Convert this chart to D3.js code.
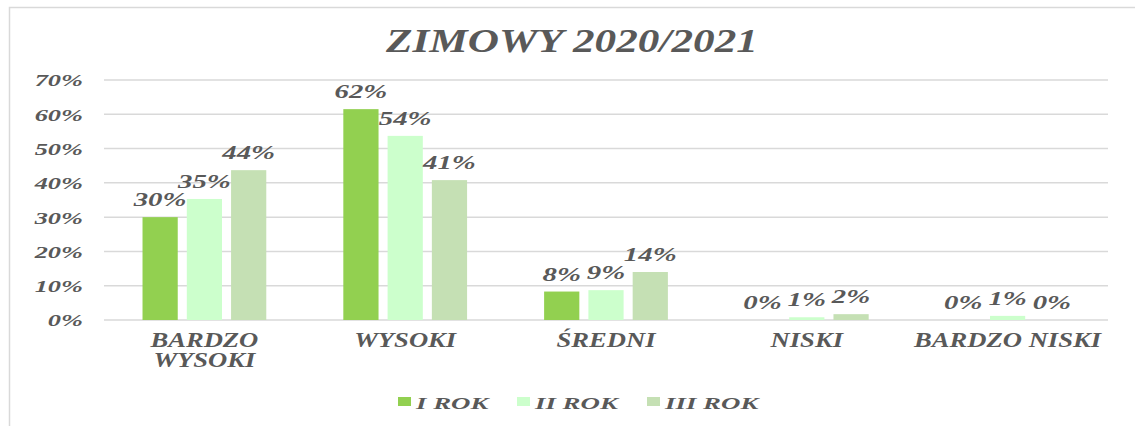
<!DOCTYPE html>
<html><head><meta charset="utf-8">
<script src="https://cdn.jsdelivr.net/npm/d3@7"></script>
<style>body{margin:0;background:#fff;}</style>
</head><body>
<svg id="c" width="1135" height="426"></svg>
<script>
const categories = [["BARDZO","WYSOKI"],["WYSOKI"],["ŚREDNI"],["NISKI"],["BARDZO NISKI"]];
const series = ["I ROK","II ROK","III ROK"];
const rok1 = [0.30, 0.615, 0.083, 0.0, 0.0];
const rok2 = [0.353, 0.537, 0.087, 0.008, 0.012];
const rok3 = [0.437, 0.408, 0.14, 0.017, 0.0];
const yTicks = [0, 0.1, 0.2, 0.3, 0.4, 0.5, 0.6, 0.7];
const colors = ["#92d050", "#ccffcc", "#c5e0b4"];
const title = "ZIMOWY 2020/2021";

const FONT = "'Liberation Serif', 'Times New Roman', 'DejaVu Serif', serif";
const values = [rok1, rok2, rok3];
const svg = d3.select("#c");
const m = {l:104, r:1108, t:80, b:320};

svg.append("rect").attr("x",9.5).attr("y",7.5).attr("width",1140).attr("height",440)
  .attr("fill","none").attr("stroke","#d9d9d9").attr("stroke-width",1.5);

const y = d3.scaleLinear().domain([0,0.7]).range([m.b, m.t]);
const keys = categories.map(c => c.join(" "));
const x0 = d3.scaleBand().domain(keys).range([m.l, m.r]).paddingInner(0).paddingOuter(0);
const x1 = d3.scaleBand().domain(series).range([0, x0.bandwidth()]).paddingInner(9/44).paddingOuter(0.87);

function styleText(sel, size){
  sel.style("font-family", FONT).style("font-weight","bold").style("font-style","italic")
    .style("fill","#595959").style("font-size", size+"px");
}
function stretch(sel, k){
  sel.each(function(){
    const n = this.getComputedTextLength();
    d3.select(this).attr("textLength", n*k).attr("lengthAdjust","spacingAndGlyphs");
  });
}

svg.append("g").selectAll("line").data(yTicks).join("line")
  .attr("x1", m.l).attr("x2", m.r).attr("y1", d=>y(d)).attr("y2", d=>y(d))
  .attr("stroke","#d9d9d9").attr("stroke-width",1.5);

const yAxis = d3.axisLeft(y).tickValues(yTicks).tickFormat(d3.format(".0%")).tickSize(0).tickPadding(0);
const ya = svg.append("g").attr("transform","translate(83,0)").call(yAxis);
ya.select(".domain").remove();
const yt = ya.selectAll("text").attr("dy","0.35em");
styleText(yt, 17);
stretch(yt, 1.55);

const g = svg.append("g");
series.forEach((s, si) => {
  g.selectAll(".b"+si).data(values[si]).join("rect")
    .attr("x",(d,i)=>x0(keys[i])+x1(s)).attr("width",x1.bandwidth())
    .attr("y",d=>y(d)).attr("height",d=>m.b - y(d))
    .attr("fill",colors[si]);
});
series.forEach((s, si) => {
  const t = g.selectAll(".l"+si).data(values[si]).join("text")
    .attr("x",(d,i)=>x0(keys[i])+x1(s)+x1.bandwidth()/2)
    .attr("y",d=>y(d)-11)
    .attr("text-anchor","middle")
    .text(d=>Math.round(d*100)+"%");
  styleText(t, 18);
  stretch(t, 1.6);
});

const xa = svg.append("g");
categories.forEach((lines, i) => {
  lines.forEach((ln, j) => {
    const t = xa.append("text").attr("x", x0(keys[i]) + x0.bandwidth()/2).attr("y", 347 + j*20)
      .attr("text-anchor","middle").text(ln);
    styleText(t, 20);
    stretch(t, 1.33);
  });
});

const tt = svg.append("text").attr("x", 572).attr("y", 52).attr("text-anchor","middle").text(title);
styleText(tt, 33);
stretch(tt, 1.31);

const legX = [398, 517, 647];
const lg = svg.append("g");
series.forEach((s, si) => {
  lg.append("rect").attr("x",legX[si]).attr("y",397).attr("width",13).attr("height",9).attr("fill",colors[si]);
  const t = lg.append("text").attr("x",legX[si]+18).attr("y",409).text(s);
  styleText(t, 17);
  stretch(t, 1.58);
});
</script>
</body></html>
